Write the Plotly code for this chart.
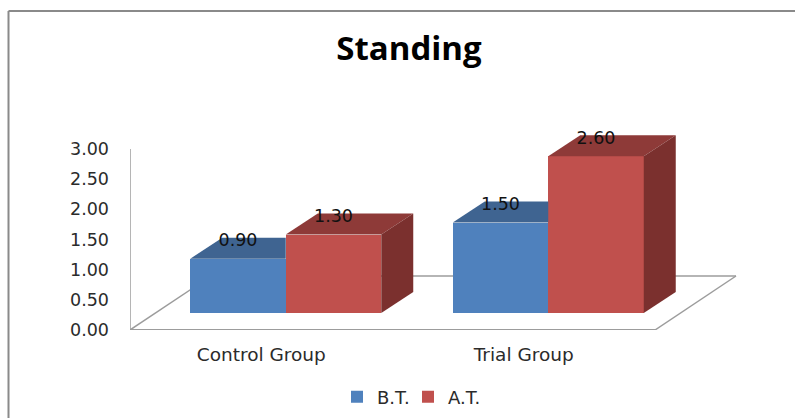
import plotly.graph_objects as go

# Chart data
categories = ["Control Group", "Trial Group"]
bt_values = [0.90, 1.50]
at_values = [1.30, 2.60]
y_ticks = [0, 0.5, 1, 1.5, 2, 2.5, 3]

# Canvas and plot-area geometry
WIDTH, HEIGHT = 795, 418
M_L, M_R, M_T, M_B = 130, 55, 130, 88
PX_PER_CAT = 262.5
PX_PER_UNIT = 60.33
PLOT_W = WIDTH - M_L - M_R
PLOT_H = HEIGHT - M_T - M_B

# Oblique projection used for the 3-D look, in data units
BAR_W = 95.5 / PX_PER_CAT
BAR_SHIFT = 24.5 / PX_PER_CAT
BASE = 17 / PX_PER_UNIT
DX = 32 / PX_PER_CAT
DY = 21 / PX_PER_UNIT
FLOOR_DX = 81 / PX_PER_CAT
FLOOR_DY = 54 / PX_PER_UNIT
X_MIN = -0.5
X_MAX = X_MIN + PLOT_W / PX_PER_CAT
Y_MAX = PLOT_H / PX_PER_UNIT
FLOOR_RIGHT = X_MIN + 2

BLUE, BLUE_TOP = "#4f81bd", "#3f6491"
RED, RED_TOP, RED_SIDE = "#c0504d", "#8e3a38", "#7b302e"
FRAME = "#8a8a8a"
AXIS = "#9c9c9c"
FONT = "DejaVu Sans"
INK = "#2b2b2b"


def paper_x(px):
    return (px - M_L) / PLOT_W


def paper_y(px):
    return (HEIGHT - M_B - px) / PLOT_H


def face(xs, ys, color):
    return go.Scatter(x=xs, y=ys, mode="lines", fill="toself", fillcolor=color,
                      line=dict(width=0, color=color), hoverinfo="skip",
                      showlegend=False)


fig = go.Figure()

positions = list(range(len(categories)))
bt_x = [p + BAR_SHIFT - BAR_W / 2 for p in positions]
at_x = [p + BAR_SHIFT + BAR_W / 2 for p in positions]

fig.add_bar(name="B.T.", x=bt_x, y=bt_values, base=BASE, width=BAR_W,
            marker=dict(color=BLUE, line_width=0), hoverinfo="skip")
fig.add_bar(name="A.T.", x=at_x, y=at_values, base=BASE, width=BAR_W,
            marker=dict(color=RED, line_width=0), hoverinfo="skip")

# Top faces; the blue one stops where the taller red bar hides it
for cx, v in zip(bt_x, bt_values):
    top = BASE + v
    x0, x1 = cx - BAR_W / 2, cx + BAR_W / 2
    fig.add_trace(face([x0, x1, x1, x0 + DX, x0],
                       [top, top, top + DY, top + DY, top], BLUE_TOP))

for cx, v in zip(at_x, at_values):
    top = BASE + v
    x0, x1 = cx - BAR_W / 2, cx + BAR_W / 2
    fig.add_trace(face([x0, x1, x1 + DX, x0 + DX, x0],
                       [top, top, top + DY, top + DY, top], RED_TOP))
    fig.add_trace(face([x1, x1 + DX, x1 + DX, x1, x1],
                       [BASE, BASE + DY, top + DY, top, BASE], RED_SIDE))

# Value labels sit on the rear edge of each top face
label_x = bt_x + at_x
label_v = bt_values + at_values
fig.add_trace(go.Scatter(
    x=label_x, y=[BASE + v + DY - 0.07 for v in label_v],
    mode="text", text=[f"{v:.2f}" for v in label_v], textposition="middle center",
    textfont=dict(family=FONT, size=17.5, color="#111111"),
    cliponaxis=False, hoverinfo="skip", showlegend=False))

# Floor outline and vertical axis, kept behind the bars
floor_segments = [
    (X_MIN, 0, FLOOR_RIGHT, 0, 2),
    (X_MIN, 0, X_MIN + FLOOR_DX, FLOOR_DY, 1.5),
    (X_MIN + FLOOR_DX, FLOOR_DY, FLOOR_RIGHT + FLOOR_DX, FLOOR_DY, 1.5),
    (FLOOR_RIGHT, 0, FLOOR_RIGHT + FLOOR_DX, FLOOR_DY, 1.5),
    (X_MIN, 0, X_MIN, y_ticks[-1], 1.5),
]
shapes = [dict(type="line", xref="x", yref="y", x0=a, y0=b, x1=c, y1=d,
               layer="below", line=dict(color=AXIS, width=w))
          for a, b, c, d, w in floor_segments]

# Chart-area frame along the left and top edges
for x0, y0, x1, y1 in [(8.5, 11, 8.5, HEIGHT + 2), (8.5, 11, WIDTH + 2, 11)]:
    shapes.append(dict(type="line", xref="paper", yref="paper",
                       x0=paper_x(x0), y0=paper_y(y0), x1=paper_x(x1), y1=paper_y(y1),
                       line=dict(color=FRAME, width=2)))

fig.update_layout(
    width=WIDTH, height=HEIGHT, autosize=False,
    margin=dict(l=M_L, r=M_R, t=M_T, b=M_B, pad=0, autoexpand=False),
    paper_bgcolor="white", plot_bgcolor="white",
    barmode="overlay", bargap=0,
    shapes=shapes,
    title=dict(text="<b>Standing</b>", x=409 / WIDTH, xref="container",
               xanchor="center", y=1 - 48 / HEIGHT, yanchor="middle",
               font=dict(family="Open Sans", size=33, color="#000000")),
    xaxis=dict(range=[X_MIN, X_MAX], tickmode="array", tickvals=positions,
               ticktext=categories, showgrid=False, zeroline=False, showline=False,
               ticks="", ticklabelstandoff=11,
               tickfont=dict(family=FONT, size=18.5, color=INK)),
    yaxis=dict(range=[0, Y_MAX], tickmode="array", tickvals=y_ticks,
               ticktext=[f"{t:.2f}" for t in y_ticks], showgrid=False, zeroline=False,
               showline=False, ticks="", ticklabelstandoff=20,
               tickfont=dict(family=FONT, size=17.5, color=INK)),
    legend=dict(orientation="h", x=paper_x(337), xanchor="left",
                y=paper_y(397), yanchor="middle", bgcolor="rgba(0,0,0,0)",
                font=dict(family=FONT, size=18, color=INK),
                entrywidth=26, entrywidthmode="pixels",
                traceorder="normal"),
)

fig.write_html("out.html", config=dict(displayModeBar=False))
